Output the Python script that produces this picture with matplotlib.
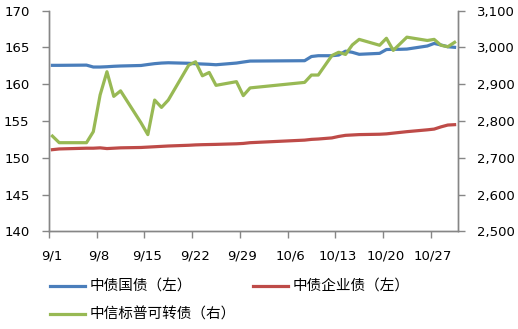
import matplotlib
matplotlib.use("Agg")
import matplotlib.pyplot as plt
import matplotlib.dates as mdates
import matplotlib.transforms as mtransforms
from matplotlib.ticker import FuncFormatter, MultipleLocator
from datetime import datetime, timedelta

plt.rcParams['font.family'] = ['DejaVu Sans']

# trading days (2015)
dates = ["9/1", "9/2", "9/6", "9/7", "9/8", "9/9", "9/10", "9/11",
         "9/14", "9/15", "9/16", "9/17", "9/18",
         "9/21", "9/22", "9/23", "9/24", "9/25",
         "9/28", "9/29", "9/30",
         "10/8", "10/9", "10/10",
         "10/12", "10/13", "10/14", "10/15", "10/16",
         "10/19", "10/20", "10/21", "10/22", "10/23",
         "10/26", "10/27", "10/28", "10/29", "10/30"]

# 中债国债 (left axis)
govt = [162.57, 162.57, 162.6, 162.34, 162.34, 162.38, 162.44, 162.48,
        162.55, 162.68, 162.8, 162.88, 162.92,
        162.85, 162.79, 162.75, 162.71, 162.65,
        162.88, 163.02, 163.15,
        163.2, 163.77, 163.88,
        163.88, 163.97, 164.5, 164.34, 164.07,
        164.2, 164.72, 164.75, 164.75, 164.78,
        165.2, 165.55, 165.34, 165.1, 165.02]

# 中债企业债 (left axis)
corp = [151.1, 151.2, 151.3, 151.3, 151.35, 151.25, 151.3, 151.35,
        151.4, 151.45, 151.5, 151.55, 151.6,
        151.7, 151.75, 151.78, 151.8, 151.82,
        151.9, 151.95, 152.05,
        152.4, 152.5, 152.55,
        152.7, 152.9, 153.05, 153.1, 153.15,
        153.2, 153.25, 153.35, 153.45, 153.55,
        153.8, 153.9, 154.2, 154.45, 154.5]

# 中信标普可转债 (right axis)
cb = [2759, 2741, 2741, 2771, 2871, 2934, 2867, 2882,
      2795, 2763, 2857, 2837, 2857,
      2952, 2961, 2923, 2932, 2897,
      2907, 2869, 2890,
      2905, 2925, 2925,
      2978, 2987, 2981, 3007, 3022,
      3006, 3025, 2992, 3010, 3028,
      3019, 3022, 3006, 3002, 3014]

tick_dates = ["9/1", "9/8", "9/15", "9/22", "9/29", "10/6", "10/13", "10/20", "10/27"]


def to_dt(s):
    m, d = s.split("/")
    return datetime(2015, int(m), int(d))


# points sit in the middle of each day slot
x = [to_dt(s) + timedelta(hours=12) for s in dates]

fig = plt.figure(figsize=(5.18, 3.29), dpi=100)
fig.patch.set_facecolor('white')
ax = fig.add_axes([49 / 518, 1 - 231.3 / 329, (458 - 49) / 518, (231.3 - 10.7) / 329])
ax2 = ax.twinx()

grey = '#868686'
l1, = ax.plot(x, govt, color='#4A7EBB', lw=2.3, solid_joinstyle='round')
l2, = ax.plot(x, corp, color='#BE4B48', lw=2.3, solid_joinstyle='round')
l3, = ax2.plot(x, cb, color='#98B954', lw=2.3, solid_joinstyle='round')

ax.set_xlim(datetime(2015, 9, 1), datetime(2015, 10, 31))
ax.set_ylim(140, 170)
ax2.set_ylim(2500, 3100)
ax.yaxis.set_major_locator(MultipleLocator(5))
ax2.yaxis.set_major_locator(MultipleLocator(100))
ax2.yaxis.set_major_formatter(FuncFormatter(lambda v, p: f"{int(v):,}"))

ax.set_xticks([mdates.date2num(to_dt(s)) for s in tick_dates])
ax.set_xticklabels(tick_dates)

for a in (ax, ax2):
    a.spines['top'].set_visible(False)
    for s in ('left', 'right', 'bottom'):
        a.spines[s].set_color(grey)
        a.spines[s].set_linewidth(1.0)
    a.tick_params(colors=grey, labelcolor='black', labelsize=9.5, length=5, width=1.0)

ax.tick_params(axis='y', pad=9)
ax2.tick_params(axis='y', pad=8.5)
ax.tick_params(axis='x', pad=8)

# Excel puts the date labels a little to the right of the tick
shift = mtransforms.ScaledTranslation(2.5 / 100, 0, fig.dpi_scale_trans)
for lbl in ax.get_xticklabels():
    lbl.set_transform(lbl.get_transform() + shift)

leg = fig.legend([l1, l3, l2], ['中债国债（左）', '中信标普可转债（右）', '中债企业债（左）'],
                 ncol=2, loc='upper left', bbox_to_anchor=(44 / 518, 1 - 274 / 329),
                 frameon=False, handlelength=2.4, handletextpad=0.35,
                 columnspacing=1.15, labelspacing=0.95, borderaxespad=0,
                 prop={'family': ['Noto Sans CJK SC', 'DejaVu Sans'], 'size': 10.5})

fig.savefig('out.png', dpi=100, facecolor='white')
